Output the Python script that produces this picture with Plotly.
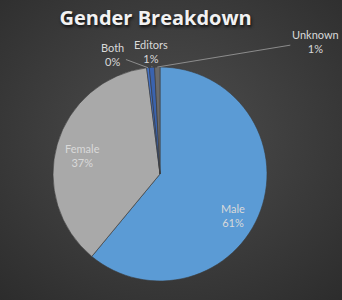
import math, base64
import plotly.graph_objects as go

labels = ["Male", "Female", "Both", "Editors", "Unknown"]
values = [610, 370, 4, 8, 8]
colors = ["#5B9BD5", "#A9A9A9", "#4472C4", "#3A63AE", "#6A6A6A"]

W, H = 342, 300
CX, CY, R = 160, 174, 107  # pie center/radius in px

dom_x = [(CX - R) / W, (CX + R) / W]
dom_y = [1 - (CY + R) / H, 1 - (CY - R) / H]

fig = go.Figure(go.Pie(
    labels=labels, values=values, sort=False, direction="clockwise", rotation=0,
    marker=dict(colors=colors, line=dict(color="#3a3a3a", width=0.6)),
    textinfo="none", hoverinfo="label+percent", showlegend=False,
    domain=dict(x=dom_x, y=dom_y),
))

total = sum(values)
cum = 0
mids = []
for v in values:
    mids.append((cum + v / 2) / total)
    cum += v

def edge_point(frac, rf=1.0):
    th = 2 * math.pi * frac
    px = CX + R * rf * math.sin(th)
    py = CY - R * rf * math.cos(th)
    return px / W, 1 - py / H

font_lbl = dict(family="Lato, Open Sans, sans-serif", size=11, color="#D9D9D9")
annotations = []
inside_pos = {"Male": (233, 215), "Female": (82, 155)}
for i, lab in enumerate(labels):
    pct = round(values[i] / total * 100)
    txt = f"{lab}<br>{pct}%"
    if lab in inside_pos:
        px, py = inside_pos[lab]
        annotations.append(dict(x=px / W, y=1 - py / H, xref="paper", yref="paper",
                                xanchor="center", yanchor="middle",
                                text=txt, showarrow=False, font=font_lbl))
    else:
        x, y = edge_point(mids[i])
        offs = {"Both": (-35, -13), "Editors": (-1, -16), "Unknown": (158, -26)}[lab]
        annotations.append(dict(x=x, y=y, xref="paper", yref="paper", text=txt,
                                showarrow=True, arrowhead=0, arrowwidth=0.8,
                                arrowcolor="#A0A0A0", ax=offs[0], ay=offs[1],
                                standoff=0, font=font_lbl, align="center"))

svg = f'''<svg xmlns="http://www.w3.org/2000/svg" width="{W}" height="{H}">
<defs><radialGradient id="g" cx="50%" cy="45%" r="75%">
<stop offset="0" stop-color="#4e4e4e"/><stop offset="1" stop-color="#2c2c2c"/>
</radialGradient></defs><rect width="{W}" height="{H}" fill="url(#g)"/></svg>'''
src = "data:image/svg+xml;base64," + base64.b64encode(svg.encode()).decode()

fig.update_layout(
    width=W, height=H, margin=dict(l=0, r=0, t=0, b=0),
    paper_bgcolor="#404040", plot_bgcolor="#404040",
    title=dict(text="<b>Gender Breakdown</b>", x=0.455, xanchor="center", y=0.94, yanchor="middle",
               font=dict(family="Open Sans, sans-serif", size=20, color="#F2F2F2",
                         shadow="1px 2px 3px #111")),
    annotations=annotations,
    images=[dict(source=src, xref="paper", yref="paper", x=0, y=1, sizex=1, sizey=1,
                 xanchor="left", yanchor="top", sizing="stretch", layer="below")],
)
fig.write_html("out.html")
